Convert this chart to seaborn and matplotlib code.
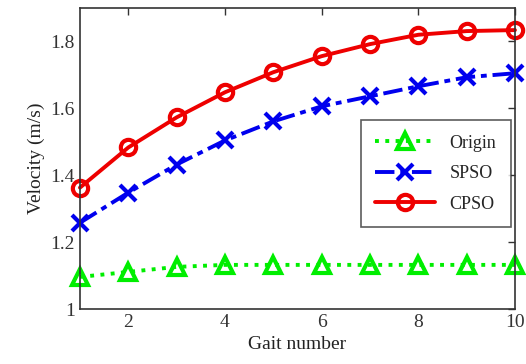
import matplotlib
matplotlib.use("Agg")
import matplotlib.pyplot as plt
import seaborn as sns
import pandas as pd

gait = [1, 2, 3, 4, 5, 6, 7, 8, 9, 10]
origin = [1.096, 1.111, 1.126, 1.132, 1.132, 1.132, 1.132, 1.132, 1.132, 1.132]
spso = [1.258, 1.348, 1.432, 1.504, 1.561, 1.606, 1.636, 1.666, 1.693, 1.705]
cpso = [1.363, 1.483, 1.573, 1.648, 1.708, 1.756, 1.792, 1.820, 1.831, 1.834]
series_names = ["Origin", "SPSO", "CPSO"]
x_ticks = [2, 4, 6, 8, 10]
y_ticks = [1, 1.2, 1.4, 1.6, 1.8]
y_tick_labels = ["1", "1.2", "1.4", "1.6", "1.8"]

sns.set_style("white")
plt.rcParams["font.family"] = ["Liberation Serif", "DejaVu Serif"]

df = pd.DataFrame({
    "gait": gait * 3,
    "v": origin + spso + cpso,
    "method": [series_names[0]] * 10 + [series_names[1]] * 10 + [series_names[2]] * 10,
})

fig = plt.figure(figsize=(5.26, 3.64), dpi=100)
ax = fig.add_axes([0.152, 0.151, 0.827, 0.827])

styles = {
    "Origin": dict(color="#00ee00", ls=":", marker="^"),
    "SPSO": dict(color="#0000ee", ls=(0, (5, 1.5, 1.5, 1.5)), marker="x"),
    "CPSO": dict(color="#ee0000", ls="-", marker="o"),
}
for name in series_names:
    sub = df[df.method == name]
    st = styles[name]
    sns.lineplot(data=sub, x="gait", y="v", ax=ax, color=st["color"], linestyle=st["ls"],
                 marker=st["marker"], markersize=11, markeredgewidth=3,
                 markerfacecolor="none", markeredgecolor=st["color"], linewidth=2.8,
                 label=name, clip_on=False)

ax.set_xlim(1, 10)
ax.set_ylim(1, 1.9)
ax.set_xticks(x_ticks)
ax.set_xticklabels([str(t) for t in x_ticks])
ax.set_yticks(y_ticks)
ax.set_yticklabels(y_tick_labels)
ax.tick_params(direction="in", top=True, right=True, length=5, width=1, labelsize=14, colors="#333333")
for s in ax.spines.values():
    s.set_color("#333333")
    s.set_linewidth(1.2)
ax.set_xlabel("Gait number", fontsize=14, color="#222222")
ax.set_ylabel("Velocity (m/s)", fontsize=14, color="#222222")

leg = ax.legend(loc="upper left", bbox_to_anchor=(0.625, 0.657), fontsize=13, frameon=True,
                fancybox=False, edgecolor="#333333", handlelength=3.3, borderpad=0.8,
                labelspacing=0.75, numpoints=1, handletextpad=0.8)
leg.get_frame().set_linewidth(1.2)

fig.savefig("out.png", dpi=100)
